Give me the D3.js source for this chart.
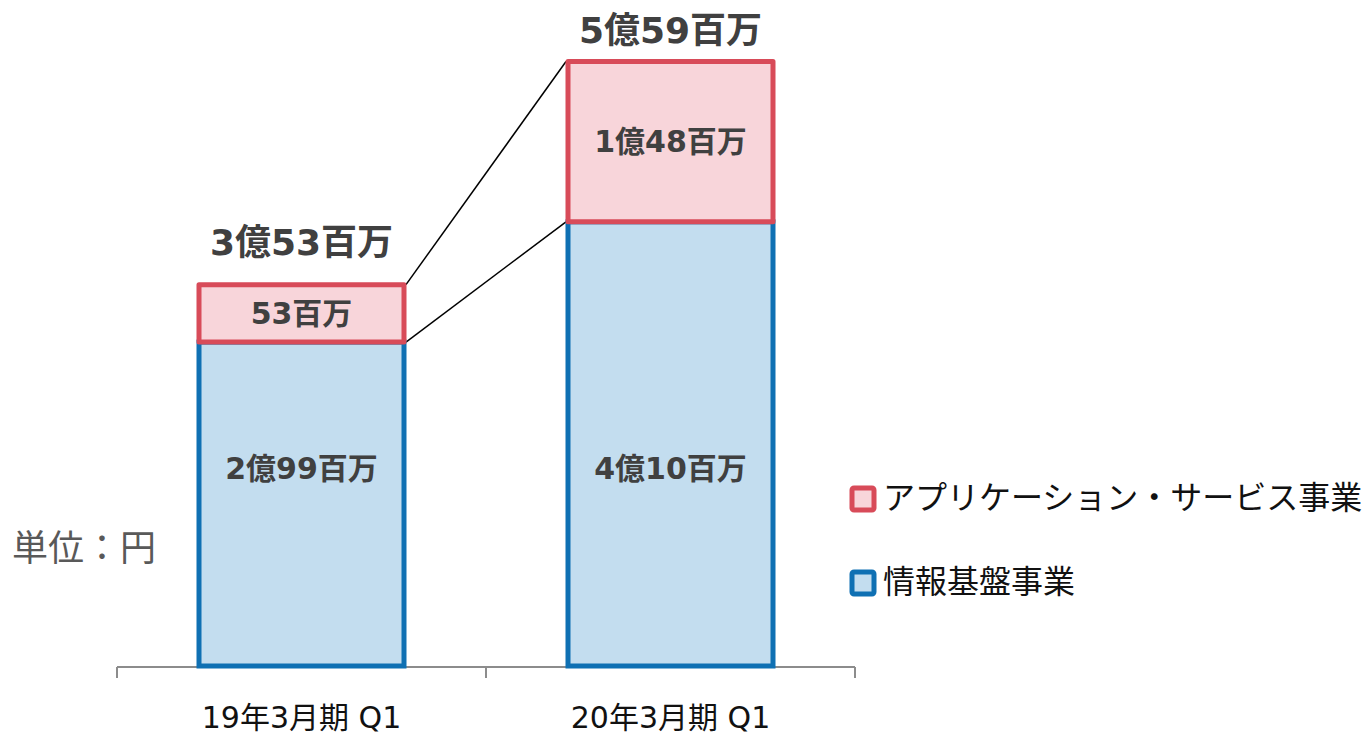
<!DOCTYPE html>
<html>
<head>
<meta charset="utf-8">
<script src="https://cdn.jsdelivr.net/npm/d3@7"></script>
<style>
  body { margin: 0; background: #ffffff; }
  text { font-family: "DejaVu Sans", "Noto Sans CJK JP", sans-serif; }
  .jp { font-family: "Noto Sans CJK JP", sans-serif; }
</style>
</head>
<body>
<div id="chart"></div>
<script>
// データ
const categories = ['19年3月期 Q1', '20年3月期 Q1'];
const infraValues = [299, 410];   // 情報基盤事業 (百万円)
const appValues = [53, 148];      // アプリケーション・サービス事業 (百万円)
const infraLabels = ['2億99百万', '4億10百万'];
const appLabels = ['53百万', '1億48百万'];
const totalLabels = ['3億53百万', '5億59百万'];
const seriesNames = ['アプリケーション・サービス事業', '情報基盤事業'];

// 配置
const width = 1367, height = 735;
const baseY = 666;
const colors = {
    infraFill: '#c3ddef', infraStroke: '#0f70b3',
    appFill: '#f8d5da', appStroke: '#d84b59'
};

const svg = d3.select('#chart').append('svg')
    .attr('width', width)
    .attr('height', height);

const x = d3.scaleBand()
    .domain(categories)
    .range([117, 855]);

const y = d3.scaleLinear()
    .domain([0, 600])
    .range([baseY, baseY - 650]);

const barW = 205;
const cx = d => x(d) + x.bandwidth() / 2;
const bx = d => cx(d) - barW / 2;

// 軸
const axis = svg.append('g')
    .attr('transform', `translate(0,${baseY + 1})`);
axis.append('line')
    .attr('x1', 117).attr('x2', 855)
    .attr('stroke', '#8c8c8c').attr('stroke-width', 2);
axis.selectAll('.tickmark')
    .data([117, x(categories[1]), 855])
    .enter().append('line')
    .attr('x1', d => d).attr('x2', d => d)
    .attr('y1', 0).attr('y2', 11)
    .attr('stroke', '#8c8c8c').attr('stroke-width', 2);

svg.selectAll('.xlabel')
    .data(categories)
    .enter().append('text')
    .attr('x', cx)
    .attr('y', 728)
    .attr('text-anchor', 'middle')
    .attr('font-size', 30)
    .attr('fill', '#111')
    .text(d => d);

// 接続線
const lineData = [
    [y(infraValues[0] + appValues[0]), y(infraValues[1] + appValues[1])],
    [y(infraValues[0]), y(infraValues[1])]
];
svg.selectAll('.conn')
    .data(lineData)
    .enter().append('line')
    .attr('x1', bx(categories[0]) + barW + 2)
    .attr('y1', d => d[0])
    .attr('x2', bx(categories[1]) - 2)
    .attr('y2', d => d[1])
    .attr('stroke', '#000')
    .attr('stroke-width', 1.5);

// 情報基盤事業
svg.selectAll('.bar-infra')
    .data(categories)
    .enter().append('rect')
    .attr('x', bx)
    .attr('y', (d, i) => y(infraValues[i]))
    .attr('width', barW)
    .attr('height', (d, i) => baseY - y(infraValues[i]))
    .attr('fill', colors.infraFill)
    .attr('stroke', colors.infraStroke)
    .attr('stroke-width', 5);

// アプリケーション・サービス事業
svg.selectAll('.bar-app')
    .data(categories)
    .enter().append('rect')
    .attr('x', bx)
    .attr('y', (d, i) => y(infraValues[i] + appValues[i]))
    .attr('width', barW)
    .attr('height', (d, i) => y(infraValues[i]) - y(infraValues[i] + appValues[i]))
    .attr('fill', colors.appFill)
    .attr('stroke', colors.appStroke)
    .attr('stroke-width', 5)
    .attr('stroke-linejoin', 'round');

// ラベル
const labelStyle = sel => sel
    .attr('text-anchor', 'middle')
    .attr('dominant-baseline', 'central')
    .attr('font-weight', 'bold')
    .attr('fill', '#404040');

// 青い棒のラベルは同じ高さに揃える
const infraLabelY = y(d3.min(infraValues) * 0.61);
svg.selectAll('.lbl-infra')
    .data(categories)
    .enter().append('text')
    .attr('x', cx)
    .attr('y', infraLabelY)
    .attr('font-size', 30)
    .call(labelStyle)
    .text((d, i) => infraLabels[i]);

svg.selectAll('.lbl-app')
    .data(categories)
    .enter().append('text')
    .attr('x', cx)
    .attr('y', (d, i) => (y(infraValues[i]) + y(infraValues[i] + appValues[i])) / 2)
    .attr('font-size', 30)
    .call(labelStyle)
    .text((d, i) => appLabels[i]);

svg.selectAll('.lbl-total')
    .data(categories)
    .enter().append('text')
    .attr('x', cx)
    .attr('y', (d, i) => y(infraValues[i] + appValues[i]) - [42, 31][i])
    .attr('font-size', 36)
    .call(labelStyle)
    .text((d, i) => totalLabels[i]);

// 単位
svg.append('text')
    .attr('class', 'jp')
    .attr('x', 12).attr('y', 545)
    .attr('dominant-baseline', 'central')
    .attr('font-size', 36)
    .attr('fill', '#595959')
    .text('単位：円');

// 凡例
const legend = svg.selectAll('.legend')
    .data(seriesNames)
    .enter().append('g')
    .attr('transform', (d, i) => `translate(852,${499 + i * 84})`);

legend.append('rect')
    .attr('x', 0).attr('y', -11)
    .attr('width', 22).attr('height', 22)
    .attr('rx', 2)
    .attr('fill', (d, i) => i === 0 ? colors.appFill : colors.infraFill)
    .attr('stroke', (d, i) => i === 0 ? colors.appStroke : colors.infraStroke)
    .attr('stroke-width', 5);

legend.append('text')
    .attr('class', 'jp')
    .attr('x', 31).attr('y', -4)
    .attr('dominant-baseline', 'central')
    .attr('font-size', 32)
    .attr('fill', '#111')
    .text(d => d);
</script>
</body>
</html>
